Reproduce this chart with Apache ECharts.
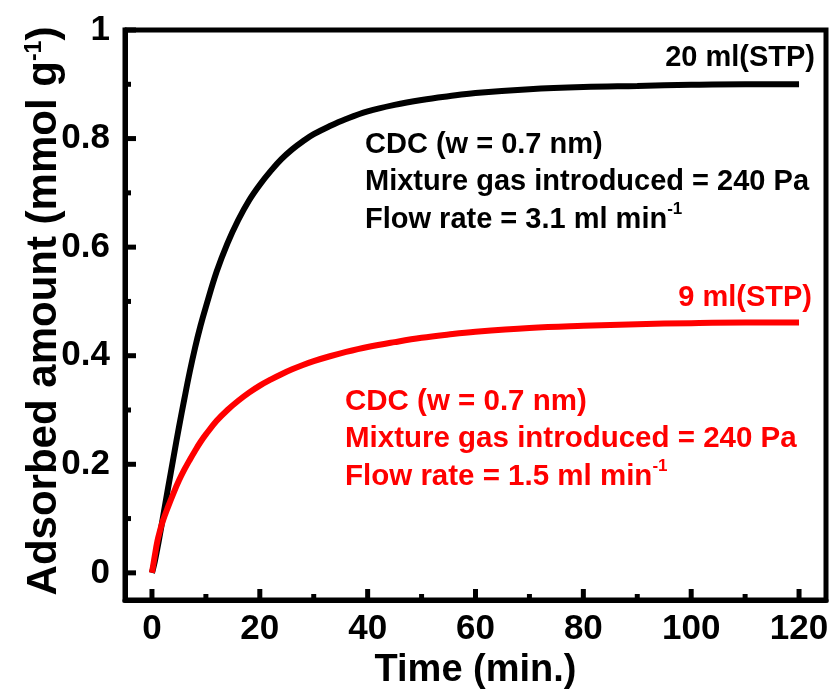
<!DOCTYPE html>
<html><head><meta charset="utf-8">
<script src="https://cdn.jsdelivr.net/npm/echarts@6/dist/echarts.min.js"></script>
<style>html,body{margin:0;padding:0;background:#fff}#c{width:835px;height:695px}</style>
</head><body><div id="c"></div>
<script>
const timeMin = [0,0.5,1,1.5,2,3,4,5,6,7,8,9,10,12,14,16,18,20,22,24,26,28,30,33,36,40,45,50,55,60,70,80,90,100,110,120];
const black20 = [0,0.02,0.045,0.072,0.10,0.157,0.213,0.268,0.32,0.37,0.415,0.455,0.49,0.555,0.607,0.65,0.686,0.715,0.74,0.762,0.78,0.795,0.808,0.823,0.836,0.85,0.862,0.871,0.878,0.884,0.891,0.895,0.897,0.899,0.90,0.90];
const red9 = [0,0.03,0.058,0.078,0.095,0.122,0.147,0.17,0.19,0.208,0.225,0.241,0.255,0.28,0.30,0.317,0.332,0.345,0.356,0.366,0.375,0.383,0.39,0.399,0.407,0.416,0.425,0.433,0.439,0.444,0.451,0.455,0.458,0.46,0.461,0.461];
const xMajorTicks = [0,20,40,60,80,100,120];
const xMinorTicks = [10,30,50,70,90,110];
const yMajorTicks = [0,0.2,0.4,0.6,0.8,1];
const yMinorTicks = [0.1,0.3,0.5,0.7,0.9];
const blackNote = ['CDC (w = 0.7 nm)','Mixture gas introduced = 240 Pa','Flow rate = 3.1 ml min'];
const redNote = ['CDC (w = 0.7 nm)','Mixture gas introduced = 240 Pa','Flow rate = 1.5 ml min'];

const FF = '"Liberation Sans", Arial, Helvetica, sans-serif';
const chart = echarts.init(document.getElementById('c'));
const pair = (xs, ys) => xs.map((x, i) => [x, ys[i]]);

function noteRich(color, fs) {
  return {
    n: {fontSize: fs, fontWeight: 'bold', fontFamily: FF, color: color, lineHeight: 37.5},
    s: {fontSize: 17, fontWeight: 'bold', fontFamily: FF, color: color, lineHeight: 20, verticalAlign: 'top'}
  };
}
function noteText(lines) {
  return lines.map((l, i) => i === lines.length - 1 ? '{n|' + l + '}{s|-1}' : '{n|' + l + '}').join('\n');
}

const X_MIN = -5, X_MAX = 125, Y_MIN = -0.05, Y_MAX = 1;
const MAJOR_LEN = 11, MINOR_LEN = 6;

// Inward axis ticks, placed through the axes' own scales (api.coord)
const xTickData = xMajorTicks.map(v => [v, Y_MIN, MAJOR_LEN]).concat(xMinorTicks.map(v => [v, Y_MIN, MINOR_LEN]));
const yTickData = yMajorTicks.map(v => [X_MIN, v, MAJOR_LEN]).concat(yMinorTicks.map(v => [X_MIN, v, MINOR_LEN]));
function tickSeries(name, data, horizontal) {
  return {
    name: name, type: 'custom', coordinateSystem: 'cartesian2d', silent: true, z: 5, clip: false,
    data: data, encode: {x: 0, y: 1},
    renderItem: function (params, api) {
      const p = api.coord([api.value(0), api.value(1)]);
      const len = api.value(2);
      const shape = horizontal
        ? {x1: p[0], y1: p[1], x2: p[0] + len, y2: p[1]}
        : {x1: p[0], y1: p[1], x2: p[0], y2: p[1] - len};
      return {type: 'line', shape: shape, style: {stroke: '#000', lineWidth: 5}};
    }
  };
}

chart.setOption({
  animation: false,
  backgroundColor: '#fff',
  grid: {left: 125, right: 9, top: 30, bottom: 92, show: true, borderColor: '#000', borderWidth: 5, backgroundColor: 'transparent'},
  xAxis: {
    type: 'value', min: X_MIN, max: X_MAX, position: 'bottom',
    axisLine: {show: true, onZero: false, lineStyle: {color: '#000', width: 5}},
    splitLine: {show: false},
    name: 'Time (min.)', nameLocation: 'middle', nameGap: 52,
    nameTextStyle: {fontSize: 38, fontWeight: 'bold', fontFamily: FF, color: '#000'},
    axisTick: {show: false},
    axisLabel: {show: true, margin: 12, fontSize: 35, fontWeight: 'bold', fontFamily: FF, color: '#000', customValues: xMajorTicks}
  },
  yAxis: {
    type: 'value', min: Y_MIN, max: Y_MAX, position: 'left',
    axisLine: {show: true, onZero: false, lineStyle: {color: '#000', width: 5}},
    splitLine: {show: false},
    name: 'Adsorbed amount (mmol g{s|-1})', nameLocation: 'middle', nameGap: 60, nameRotate: 90, nameMoveOverlap: false,
    nameTextStyle: {fontSize: 42, fontWeight: 'bold', fontFamily: FF, color: '#000', padding: [0, 0, 0, 8],
      rich: {s: {fontSize: 23, fontWeight: 'bold', fontFamily: FF, color: '#000', verticalAlign: 'top', lineHeight: 25}}},
    axisTick: {show: false},
    axisLabel: {show: true, margin: 15, fontSize: 35, fontWeight: 'bold', fontFamily: FF, color: '#000', customValues: yMajorTicks}
  },
  series: [
    {name: '20 ml(STP)', type: 'line', data: pair(timeMin, black20), smooth: 0.4,
     showSymbol: false, symbol: 'none', lineStyle: {color: '#000', width: 6}, z: 3},
    {name: '9 ml(STP)', type: 'line', data: pair(timeMin, red9), smooth: 0.4,
     showSymbol: false, symbol: 'none', lineStyle: {color: '#ff0000', width: 6}, z: 4},
    tickSeries('xTicks', xTickData, false),
    tickSeries('yTicks', yTickData, true)
  ],
  graphic: [
    {type: 'text', x: 815, y: 58, style: {text: '20 ml(STP)', fontSize: 29, fontWeight: 'bold', fontFamily: FF, fill: '#000', align: 'right', verticalAlign: 'middle'}},
    {type: 'text', x: 812, y: 298, style: {text: '9 ml(STP)', fontSize: 29, fontWeight: 'bold', fontFamily: FF, fill: '#ff0000', align: 'right', verticalAlign: 'middle'}},
    {type: 'text', x: 365, y: 126, style: {text: noteText(blackNote), rich: noteRich('#000', 29), fontSize: 29, fontWeight: 'bold', fontFamily: FF, fill: '#000', align: 'left', verticalAlign: 'top'}},
    {type: 'text', x: 345, y: 383, style: {text: noteText(redNote), rich: noteRich('#ff0000', 29.5), fontSize: 29.5, fontWeight: 'bold', fontFamily: FF, fill: '#ff0000', align: 'left', verticalAlign: 'top'}}
  ]
});
</script></body></html>
